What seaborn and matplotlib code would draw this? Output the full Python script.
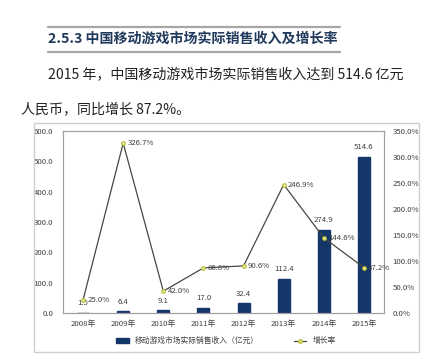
import matplotlib
matplotlib.use("Agg")
import matplotlib.pyplot as plt
import seaborn as sns
import pandas as pd
from matplotlib.patches import Rectangle, Patch
from matplotlib.lines import Line2D

years = ["2008年", "2009年", "2010年", "2011年", "2012年", "2013年", "2014年", "2015年"]
revenue = [1.5, 6.4, 9.1, 17.0, 32.4, 112.4, 274.9, 514.6]
growth = [25.0, 326.7, 42.0, 86.8, 90.6, 246.9, 144.6, 87.2]
left_ticks = [0, 100, 200, 300, 400, 500, 600]
right_ticks = [0, 50, 100, 150, 200, 250, 300, 350]
bar_name = "移动游戏市场实际销售收入（亿元）"
line_name = "增长率"
heading = "2.5.3 中国移动游戏市场实际销售收入及增长率"
para1 = "2015 年，中国移动游戏市场实际销售收入达到 514.6 亿元"
para2 = "人民币，同比增长 87.2%。"

sns.set_theme(style="white")
plt.rcParams['font.family'] = ['Noto Sans CJK SC', 'DejaVu Sans']

W, H = 428, 359
fig = plt.figure(figsize=(W / 100, H / 100), dpi=100)
fig.patch.set_facecolor("white")

def fx(x):
    return x / W

def fy(y):
    return 1 - y / H

# header
for yy in (26.5, 51.5):
    fig.add_artist(Line2D([fx(48), fx(340)], [fy(yy), fy(yy)], color="#a6a6a6", lw=1.6))
fig.text(fx(48), fy(39), heading, fontsize=10.1, fontweight="bold", color="#203a5c",
         va="center", ha="left")
fig.text(fx(48), fy(75), para1, fontsize=10.1, color="#222222", va="center", ha="left")
fig.text(fx(21), fy(109), para2, fontsize=10.1, color="#222222", va="center", ha="left")

# chart frame
fig.add_artist(Rectangle((fx(34), fy(352)), fx(419) - fx(34), fy(123) - fy(352),
                         fill=False, edgecolor="#d0d0d0", lw=1.0))

ax = fig.add_axes([fx(63), fy(313), fx(384) - fx(63), fy(131) - fy(313)])
df = pd.DataFrame({"year": years, "revenue": revenue, "growth": growth})
navy = "#143668"
sns.barplot(data=df, x="year", y="revenue", color=navy, width=0.3, ax=ax,
            saturation=1, edgecolor=navy)
ax.set_ylim(0, 600)
ax.set_xlim(-0.5, len(years) - 0.5)
ax.set_yticks(left_ticks)
ax.set_yticklabels([f"{v:.1f}" for v in left_ticks])
ax.set_xlabel("")
ax.set_ylabel("")
txt_c = "#404040"
fs = 5.6
ax.tick_params(axis="both", length=0, labelsize=fs, labelcolor=txt_c)
ax.tick_params(axis="y", pad=7)
ax.tick_params(axis="x", pad=5)
for s in ax.spines.values():
    s.set_color("#a0a0a0")
    s.set_linewidth(0.8)
for i, v in enumerate(revenue):
    ax.annotate(f"{v:.1f}", (i, v), xytext=(0, 4), textcoords="offset points",
                ha="center", va="bottom", fontsize=fs, color=txt_c)

ax2 = ax.twinx()
sns.pointplot(data=df, x="year", y="growth", color="#4a4a4a", markers="o",
              linestyles="-", ax=ax2, linewidth=0.9, markersize=2.5)
for ln in ax2.lines:
    ln.set_markerfacecolor("#f4f4d0")
    ln.set_markeredgecolor("#b8c02a")
    ln.set_markeredgewidth(0.9)
    ln.set_color("#474740")
ax2.set_ylim(0, 350)
ax2.set_yticks(right_ticks)
ax2.set_yticklabels([f"{v:.1f}%" for v in right_ticks])
ax2.set_ylabel("")
ax2.tick_params(axis="y", length=0, labelsize=fs, labelcolor=txt_c, pad=6)
for s in ax2.spines.values():
    s.set_color("#a0a0a0")
    s.set_linewidth(0.8)
for i, v in enumerate(growth):
    ax2.annotate(f"{v:.1f}%", (i, v), xytext=(3, 0), textcoords="offset points",
                 ha="left", va="center", fontsize=fs, color=txt_c)

handles = [Patch(facecolor=navy, edgecolor=navy),
           Line2D([], [], color="#474740", lw=0.9, marker="o", markersize=2.5,
                  markerfacecolor="#f4f4d0", markeredgecolor="#b8c02a")]
fig.legend(handles, [bar_name, line_name], loc="center", bbox_to_anchor=(fx(226), fy(341)),
           ncol=2, frameon=False, fontsize=fs, labelcolor=txt_c, columnspacing=4.5,
           handlelength=1.6, handleheight=0.6, handletextpad=0.8)

fig.savefig("out.png", dpi=100, facecolor="white")
